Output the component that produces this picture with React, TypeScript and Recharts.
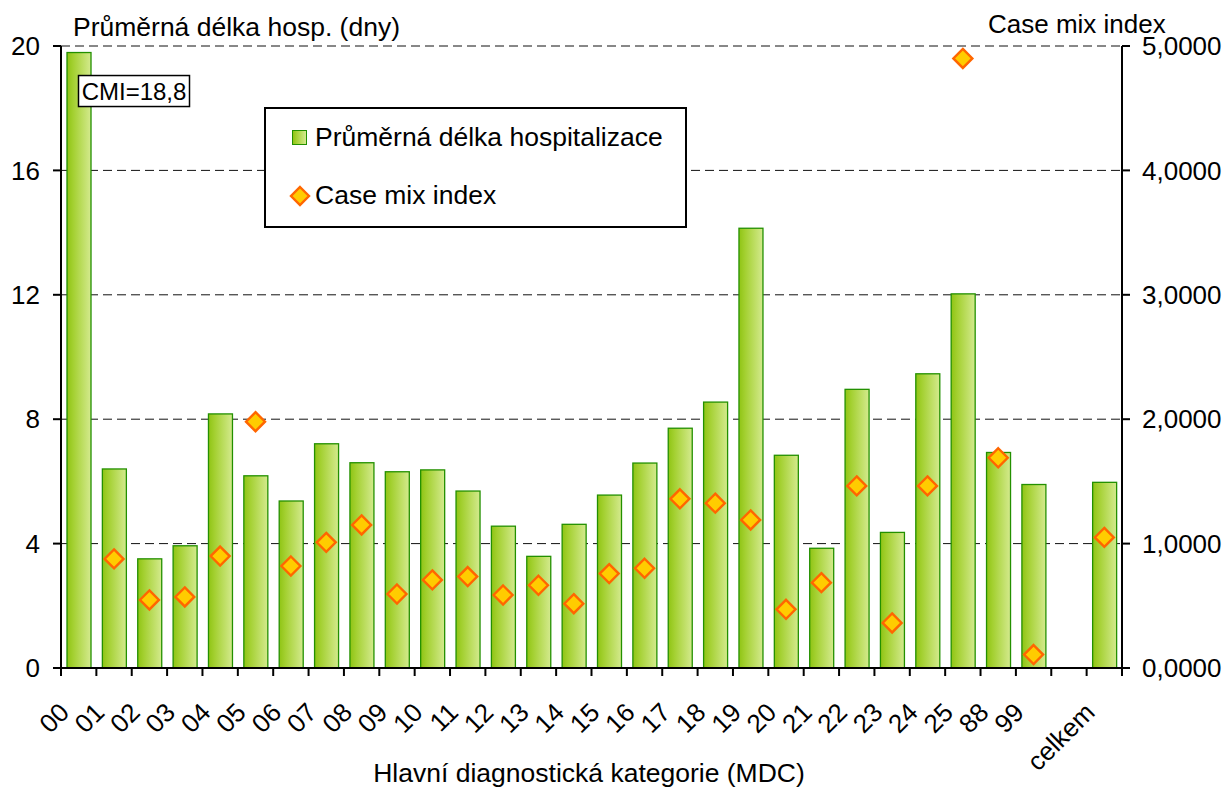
import React from 'react';
import { ComposedChart, Bar, Line, XAxis, YAxis, CartesianGrid, Legend } from 'recharts';

const categories = ['00','01','02','03','04','05','06','07','08','09','10','11','12','13','14','15','16','17','18','19','20','21','22','23','24','25','88','99','','celkem'];
const avgLOS = [19.79,6.40,3.51,3.93,8.17,6.18,5.37,7.21,6.60,6.31,6.37,5.69,4.56,3.59,4.62,5.56,6.59,7.71,8.55,14.14,6.84,3.85,8.96,4.36,9.46,12.03,6.93,5.90,null,5.97];
const cmi = [null,0.877,0.547,0.571,0.90,1.98,0.82,1.01,1.15,0.595,0.708,0.735,0.587,0.665,0.517,0.759,0.802,1.36,1.325,1.19,0.472,0.686,1.464,0.362,1.464,4.90,1.69,0.108,null,1.05];
const cmiOffChart = 18.8;
const leftTicks = [0,4,8,12,16,20];
const rightTicks = [0,1,2,3,4,5];

const seriesNames = { los: 'Průměrná délka hospitalizace', cmi: 'Case mix index' };
const titles = { left: 'Průměrná délka hosp. (dny)', right: 'Case mix index', x: 'Hlavní diagnostická kategorie (MDC)' };

const data = categories.map((c, i) => ({ cat: c, los: avgLOS[i], cmi: cmi[i] }));

const FONT = '"Liberation Sans", Arial, sans-serif';
const fmtComma = (v: number, d: number) => v.toFixed(d).replace('.', ',');

const BarShape = (props: any) => {
  const { x, y, width, height, index } = props;
  if (height == null || height <= 0) return <g />;
  const id = `barGrad${index}`;
  return (
    <g>
      <defs>
        <linearGradient id={id} x1="0" y1="0" x2="1" y2="0">
          <stop offset="0%" stopColor="#8fc414" />
          <stop offset="25%" stopColor="#a3d030" />
          <stop offset="100%" stopColor="#d4ea8e" />
        </linearGradient>
      </defs>
      <rect x={x} y={y} width={width} height={height} fill={`url(#${id})`} stroke="#239000" strokeWidth={1.3} />
      {index === 0 && (
        <g>
          <rect x={x + width / 2 - 0.5} y={y + 23} width={111} height={31} fill="#fff" stroke="#000" strokeWidth={1.5} />
          <text x={x + width / 2 + 55} y={y + 47} textAnchor="middle" fontFamily={FONT} fontSize={24} fill="#000">
            {`CMI=${fmtComma(cmiOffChart, 1)}`}
          </text>
        </g>
      )}
    </g>
  );
};

const Diamond = ({ cx, cy, r = 9.5 }: any) => (
  <polygon
    points={`${cx},${cy - r} ${cx + r},${cy} ${cx},${cy + r} ${cx - r},${cy}`}
    fill="#ffcc00"
    stroke="#ff6600"
    strokeWidth={2.4}
    strokeLinejoin="miter"
  />
);

const DiamondDot = (props: any) => {
  const { cx, cy, index, value } = props;
  if (cx == null || cy == null || value == null || Number.isNaN(cy)) return <g key={`d${index}`} />;
  return <g key={`d${index}`}><Diamond cx={cx} cy={cy} /></g>;
};

const XTick = (props: any) => {
  const { x, y, payload, index } = props;
  const half = payload && payload.offset ? payload.offset : (props.width || 1061) / categories.length / 2;
  const isLast = index === categories.length - 1;
  const ex = x - 8;
  const ey = y + 46;
  return (
    <g>
      <line x1={x - half} x2={x - half} y1={y} y2={y + 8} stroke="#000" strokeWidth={2} />
      {isLast && <line x1={x + half} x2={x + half} y1={y} y2={y + 8} stroke="#000" strokeWidth={2} />}
      <text x={ex} y={ey} transform={`rotate(-45, ${ex}, ${ey})`} textAnchor="end" fontFamily={FONT} fontSize={26} fill="#000">
        {payload.value}
      </text>
    </g>
  );
};

const LegendBox = () => (
  <div style={{ position: 'relative', width: 423, height: 121, boxSizing: 'border-box', border: '2px solid #000', background: '#fff', fontFamily: FONT, fontSize: 26.5, color: '#000' }}>
    <div style={{ position: 'absolute', left: 26, top: 21, width: 15, height: 15, boxSizing: 'border-box', border: '1px solid #239000', background: 'linear-gradient(to right, #8fc414, #a3d030 25%, #d4ea8e)' }} />
    <div style={{ position: 'absolute', left: 49, top: 12, lineHeight: '32px', whiteSpace: 'nowrap' }}>{seriesNames.los}</div>
    <svg style={{ position: 'absolute', left: 21, top: 74 }} width={26} height={26}>
      <Diamond cx={13} cy={13} r={9} />
    </svg>
    <div style={{ position: 'absolute', left: 49, top: 70, lineHeight: '32px', whiteSpace: 'nowrap' }}>{seriesNames.cmi}</div>
  </div>
);

export default function App() {
  return (
    <div style={{ position: 'absolute', left: 0, top: 0, width: 1228, height: 787, background: '#fff' }}>
      <ComposedChart width={1228} height={787} data={data} margin={{ top: 46, right: 0, bottom: 0, left: 0 }}>
        <CartesianGrid yAxisId="left" vertical={false} stroke="#111" strokeDasharray="9 5" strokeWidth={1} />
        <XAxis
          dataKey="cat"
          height={119}
          interval={0}
          tickLine={false}
          tickSize={0}
          tickMargin={0}
          axisLine={{ stroke: '#000', strokeWidth: 2 }}
          tick={<XTick />}
        />
        <YAxis
          yAxisId="left"
          width={61}
          domain={[0, 20]}
          ticks={leftTicks}
          interval={0}
          tickSize={8}
          tickMargin={13}
          axisLine={{ stroke: '#000', strokeWidth: 2 }}
          tickLine={{ stroke: '#000', strokeWidth: 2 }}
          tick={{ fill: '#000', fontSize: 26, fontFamily: FONT }}
        />
        <YAxis
          yAxisId="right"
          orientation="right"
          width={106}
          domain={[0, 5]}
          ticks={rightTicks}
          interval={0}
          tickSize={8}
          tickMargin={12}
          tickFormatter={(v: number) => fmtComma(v, 4)}
          axisLine={{ stroke: '#000', strokeWidth: 2 }}
          tickLine={{ stroke: '#000', strokeWidth: 2 }}
          tick={{ fill: '#000', fontSize: 26, fontFamily: FONT }}
        />
        <Legend
          layout="vertical"
          align="center"
          verticalAlign="middle"
          content={<LegendBox />}
          wrapperStyle={{ position: 'absolute', left: 264, top: 107, width: 423, height: 121, margin: 0, padding: 0 }}
        />
        <Bar yAxisId="left" dataKey="los" name={seriesNames.los} barSize={24} shape={<BarShape />} isAnimationActive={false} />
        <Line yAxisId="right" dataKey="cmi" name={seriesNames.cmi} stroke="none" strokeWidth={0} dot={(p: any) => <DiamondDot {...p} />} activeDot={false} isAnimationActive={false} />
      </ComposedChart>
      <svg style={{ position: 'absolute', left: 0, top: 0, pointerEvents: 'none' }} width={1228} height={787}>
        <text x={73} y={36} fontFamily={FONT} fontSize={26.5} fill="#000">{titles.left}</text>
        <text x={988} y={33} fontFamily={FONT} fontSize={26} fill="#000">{titles.right}</text>
        <text x={589} y={782} textAnchor="middle" fontFamily={FONT} fontSize={26.5} fill="#000">{titles.x}</text>
      </svg>
    </div>
  );
}
